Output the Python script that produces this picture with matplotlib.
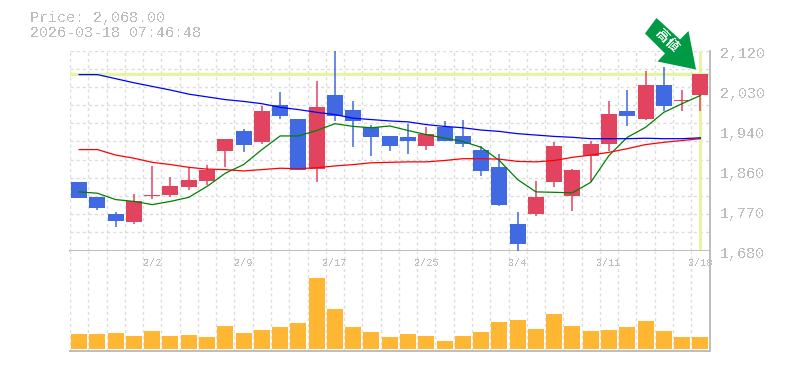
import numpy as np
import matplotlib
matplotlib.use('Agg')
import matplotlib.pyplot as plt
from matplotlib.patches import Polygon

plt.rcParams['font.family'] = ['Liberation Mono', 'Noto Sans CJK JP', 'DejaVu Sans']
plt.rcParams['text.antialiased'] = False

# prices, one entry per trading day
opens = [1830, 1797, 1761, 1742, 1799, 1803, 1819, 1834, 1898, 1942, 1918, 1999, 1970, 1860, 2021, 1988,
         1951, 1931, 1929, 1909, 1951, 1931, 1902, 1863, 1739, 1761, 1830, 1799, 1889, 1915, 1986, 1970,
         2045, 2008, 2023]
closes = [1795, 1773, 1744, 1790, 1803, 1823, 1836, 1858, 1926, 1913, 1988, 1975, 1858, 1995, 1975, 1964,
          1929, 1909, 1922, 1937, 1922, 1915, 1856, 1781, 1695, 1797, 1909, 1856, 1915, 1981, 1975, 2045,
          1999, 2010, 2068]
highs = [1830, 1797, 1764, 1805, 1865, 1841, 1864, 1869, 1926, 1948, 1999, 2028, 1970, 2054, 2120, 2010,
         1957, 1933, 1959, 1951, 1964, 1968, 1909, 1893, 1764, 1834, 1918, 1860, 1920, 2010, 2034, 2076,
         2083, 2034, 2068]
lows = [1795, 1769, 1731, 1738, 1794, 1797, 1814, 1825, 1863, 1896, 1915, 1970, 1858, 1830, 1966, 1907,
        1887, 1900, 1893, 1902, 1920, 1907, 1843, 1779, 1680, 1755, 1819, 1768, 1830, 1898, 1955, 1968,
        1986, 1986, 1988]

ma_short = [1809, 1806, 1792, 1788, 1781, 1788, 1797, 1821, 1850, 1869, 1902, 1932, 1932, 1944, 1959, 1953,
            1950, 1954, 1944, 1935, 1927, 1920, 1907, 1878, 1836, 1809, 1808, 1807, 1830, 1889, 1929, 1951,
            1984, 2003, 2021]
ma_mid = [1902, 1902, 1890, 1883, 1874, 1869, 1863, 1859, 1858, 1855, 1858, 1861, 1860, 1862, 1866, 1869,
          1873, 1874, 1875, 1875, 1878, 1882, 1882, 1881, 1876, 1875, 1878, 1885, 1890, 1896, 1904, 1913,
          1918, 1922, 1926]
ma_long = [2067, 2067, 2058, 2049, 2041, 2033, 2024, 2018, 2012, 2008, 2003, 1995, 1990, 1984, 1979, 1971,
           1968, 1965, 1963, 1957, 1953, 1950, 1945, 1942, 1937, 1934, 1931, 1929, 1926, 1926, 1926, 1927,
           1926, 1926, 1928]

volumes = [15, 15, 16, 13, 18, 13, 14, 12, 23, 16, 19, 22, 26, 71, 40, 22, 17, 12, 15, 13, 8, 13, 17, 27,
           29, 20, 35, 23, 18, 19, 22, 28, 18, 12, 12]

tick_pos = [4, 9, 14, 19, 24, 29, 34]
tick_labels = ['2/2', '2/9', '2/17', '2/25', '3/4', '3/11', '3/18']
price_ticks = [1680, 1768, 1856, 1944, 2032, 2120]
price_labels = ['1,680', '1,770', '1,860', '1,940', '2,030', '2,120']
last_price = 2068

W, H = 785, 370
RED = '#E2445F'
BLUE = '#4169E1'
ORANGE = '#FFB733'
LIME = '#E4F6A5'
GRID = '#DCDCDC'
AXIS = '#BDBDBD'
TEXT = '#BDBDBD'

fig = plt.figure(figsize=(W / 100, H / 100), dpi=100)
ax = fig.add_axes([70.0 / W, 1 - 250.5 / H, 639.5 / W, 200 / H])
vol = fig.add_axes([70.0 / W, 1 - 350.5 / H, 639.5 / W, 100 / H])

n = len(closes)
x = np.arange(n) + 0.5

for a in (ax, vol):
    a.set_xlim(0, n)
    a.set_xticks(np.arange(n + 1))
    a.set_xticklabels([])
    a.tick_params(length=0)
    a.grid(True, color=GRID, linestyle=(0, (2.2, 2.2)), linewidth=1.0)
    a.set_axisbelow(True)
    a.spines['top'].set_visible(False)
    a.spines['left'].set_visible(False)
    a.spines['right'].set_color(AXIS)
    a.spines['bottom'].set_color(AXIS)
    a.spines['right'].set_linewidth(1.4)
    a.spines['bottom'].set_linewidth(1.4)

# price panel
ax.set_ylim(1680, 2120)
ax.set_yticks(np.linspace(1680, 2120, 12))
ax.set_yticklabels([])
for p, l in zip(price_ticks, price_labels):
    ax.annotate(l, xy=(1, p), xycoords=ax.get_yaxis_transform(), xytext=(7.6, -2.2),
                textcoords='offset points', color=TEXT, fontsize=10.8, ha='left', va='center',
                annotation_clip=False)

ax.axhline(last_price, color=LIME, linewidth=2.4, zorder=1.5)
ax.axvline(x[-1], color=LIME, linewidth=2.2, zorder=1.5)

for i in range(n):
    c = RED if closes[i] >= opens[i] else BLUE
    ax.vlines(x[i], lows[i], highs[i], color=c, linewidth=1.1, zorder=3)
    ax.bar(x[i], abs(closes[i] - opens[i]), 0.875, bottom=min(opens[i], closes[i]), color=c, zorder=3)

ax.plot(x, ma_short, color='#008000', linewidth=0.9, zorder=4)
ax.plot(x, ma_mid, color='#FF0000', linewidth=0.9, zorder=4)
ax.plot(x, ma_long, color='#0000FF', linewidth=0.9, zorder=4)

# volume panel
vol.set_ylim(-2, 98)
vol.set_yticks([])
vol.bar(x, volumes, 0.875, color=ORANGE, zorder=3)
for p, l in zip(tick_pos, tick_labels):
    vol.text(p + 0.5, 86, l, color=TEXT, fontsize=7.4, ha='center', va='center', zorder=2)

# header and arrow sit on an overlay in pixel coordinates
ov = fig.add_axes([0, 0, 1, 1], facecolor='none')
ov.set_xlim(0, W)
ov.set_ylim(H, 0)
ov.axis('off')
ov.text(30, 18, 'Price: 2,068.00', color=TEXT, fontsize=10.8, ha='left', va='center')
ov.text(30, 33, '2026-03-18 07:46:48', color=TEXT, fontsize=10.8, ha='left', va='center')
ov.add_patch(Polygon([(656.5, 18), (645, 33.5), (665, 53.5), (657.5, 61.5), (696, 69.5), (688.5, 31), (680, 39.5)],
                     closed=True, facecolor='#009A44', edgecolor='none'))
ov.text(666.5, 41, '\u9ad8\u5024', color='white', fontsize=9.5, rotation=-45, ha='center', va='center',
        rotation_mode='anchor', fontweight='bold')

fig.savefig('out.png', dpi=100)
